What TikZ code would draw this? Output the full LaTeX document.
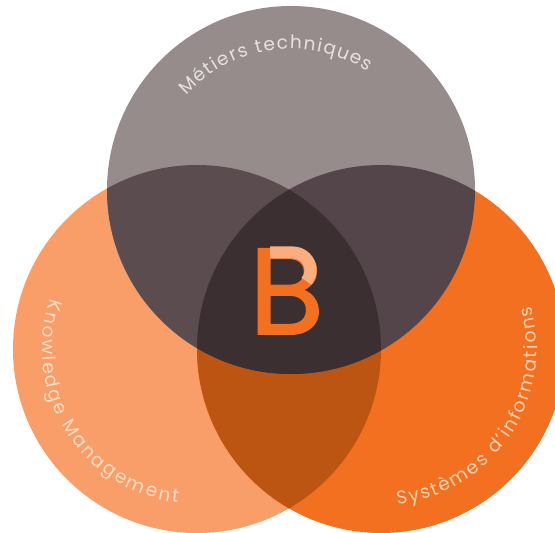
\documentclass[tikz,border=0pt]{standalone}
\usepackage{fontspec}
\setmainfont{Poppins}
\newfontfamily\beefont[FakeBold=1.6]{Poppins}
\usetikzlibrary{decorations.text}
\definecolor{cTop}{HTML}{968C8C}
\definecolor{cLeft}{HTML}{F99E68}
\definecolor{cRight}{HTML}{F37021}
\definecolor{cTL}{HTML}{5A4C4F}
\definecolor{cTR}{HTML}{54454A}
\definecolor{cLR}{HTML}{BC5512}
\definecolor{cMid}{HTML}{3B2F31}
\definecolor{cTxtA}{HTML}{E6E1E0}
\definecolor{cTxtB}{HTML}{FDDCC6}
\definecolor{cTxtC}{HTML}{FBD0AE}
\tikzset{x=1pt,y=1pt}
\def\rr{184}
\def\circT{(291,343) circle (\rr)}
\def\circL{(197,184) circle (\rr)}
\def\circR{(381,184) circle (\rr)}
\begin{document}
\begin{tikzpicture}
\useasboundingbox (0,0) rectangle (555,533);
\clip (0,0) rectangle (555,533);
\fill[white] (0,0) rectangle (555,533);
\fill[cLeft] \circL;
\fill[cRight] \circR;
\begin{scope}\clip \circL; \fill[cLR] \circR; \end{scope}
\fill[cTop] \circT;
\begin{scope}\clip \circT; \fill[cTL] \circL; \fill[cTR] \circR;
  \clip \circL; \fill[cMid] \circR; \end{scope}
\path[decorate,decoration={text along path,text align={fit to path},text={|\fontsize{18.5}{18.5}\selectfont\color{cTxtA}|Métiers techniques}}]
  (291,343) ++(138:141) arc[start angle=138,end angle=57,radius=141];
\path[decorate,decoration={text along path,text align={fit to path},text={|\fontsize{18.5}{18.5}\selectfont\color{cTxtB}|Knowledge Management}}]
  (197,184) ++(161:155) arc[start angle=161,end angle=263,radius=155];
\path[decorate,decoration={text along path,text align={fit to path},text={|\fontsize{18.5}{18.5}\selectfont\color{cTxtC}|Systèmes d'informations}}]
  (381,184) ++(276:156) arc[start angle=276,end angle=376,radius=156];
\node[anchor=base west,inner sep=0pt,text=cRight,font=\beefont\fontsize{122}{122}\selectfont] (bee) at (249,199) {B};
\draw[cLeft!85!white,line width=12pt] (270,280.5) -- (293,280.5) arc[start angle=90,end angle=-40,radius=17.5];
\end{tikzpicture}
\end{document}
